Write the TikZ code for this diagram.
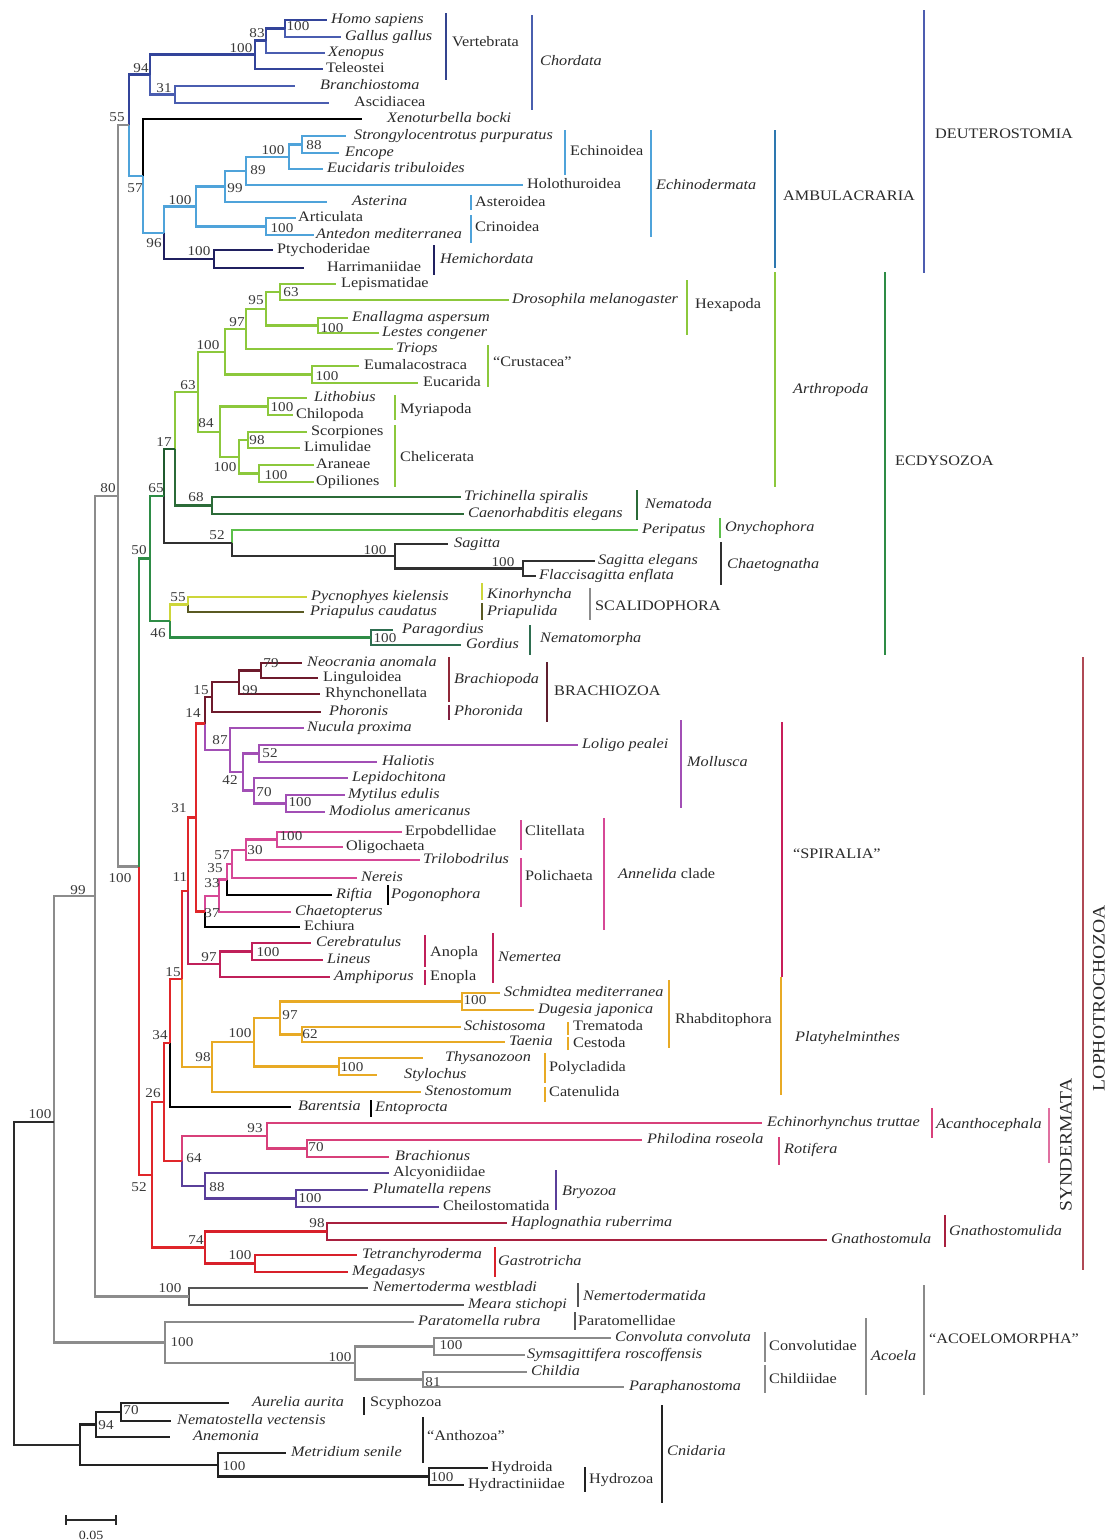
\documentclass[tikz,border=0pt]{standalone}
\usepackage{fontspec}
\setmainfont{Liberation Serif}[FakeStretch=1.12]
\definecolor{txt}{HTML}{2A2A2A}
\definecolor{bsc}{HTML}{3A3A3A}
\definecolor{cChord}{HTML}{33449A}
\definecolor{cChordL}{HTML}{4A5DB0}
\definecolor{cEchi}{HTML}{4FA3DA}
\definecolor{cHemi}{HTML}{202060}
\definecolor{cGray}{HTML}{8C8C8C}
\definecolor{cArth}{HTML}{8CC83C}
\definecolor{cEcd}{HTML}{2E8C46}
\definecolor{cEcdD}{HTML}{1F5A2E}
\definecolor{cNema}{HTML}{2B6B38}
\definecolor{cOny}{HTML}{5CBF4A}
\definecolor{cChae}{HTML}{303030}
\definecolor{cKin}{HTML}{CDD63A}
\definecolor{cPri}{HTML}{5A5A22}
\definecolor{cNmo}{HTML}{2E6E50}
\definecolor{cLoph}{HTML}{E0262A}
\definecolor{cBrz}{HTML}{6E1A2C}
\definecolor{cMoll}{HTML}{A24FB5}
\definecolor{cAnn}{HTML}{D64896}
\definecolor{cNem}{HTML}{C0205A}
\definecolor{cPla}{HTML}{E8AA25}
\definecolor{cSyn}{HTML}{D8407A}
\definecolor{cBry}{HTML}{5A3F9A}
\definecolor{cGna}{HTML}{A8203F}
\definecolor{cGas}{HTML}{D8202A}
\definecolor{cNd}{HTML}{555555}
\definecolor{cAco}{HTML}{8A8A8A}
\definecolor{cCni}{HTML}{222222}
\definecolor{cDark}{HTML}{2A2A2A}
\definecolor{barVert}{HTML}{34448F}
\definecolor{barChord}{HTML}{4A5FAE}
\definecolor{barAmb}{HTML}{2E78B0}
\definecolor{barDeut}{HTML}{4D5DB0}
\definecolor{barScal}{HTML}{8C8C8C}
\definecolor{barBrc}{HTML}{902838}
\definecolor{barPho}{HTML}{802040}
\definecolor{barBrz}{HTML}{602030}
\definecolor{barSpi}{HTML}{C81E5A}
\definecolor{barLoph}{HTML}{B04A55}
\definecolor{barSynd}{HTML}{E070A0}
\newcommand\lff{\fontsize{14.5}{16}\selectfont}
\newcommand\bsff{\fontsize{13.5}{15}\selectfont}
\newcommand\bigff{\fontsize{17.5}{19}\selectfont}
\newcommand\mkleaf[5]{\coordinate (#1) at (#2,#3); \node[lab] (#1-l) at (#4,#3) {#5};}
\newcommand\mkedge[3]{\draw[br,#1] (#2) |- (#3);}
\newcommand\mkbs[4]{\node[bsl] (#1) at (#2,#3) {#4};}
\newcommand\mkgroup[8]{\draw[bar,#8] (#2,#3) -- (#2,#4); \node[lab] (#1) at (#5,#6) {#7};}
\begin{document}
\begin{tikzpicture}[x=1pt,y=-1pt,
  br/.style={line width=2.2pt},
  bar/.style={line width=2.7pt},
  lab/.style={anchor=west,inner sep=0pt,font=\lff,text=txt,text height=10pt,text depth=3pt},
  bsl/.style={inner sep=0pt,font=\bsff,text=bsc}]
\fill[white] (0,0) rectangle (1110,1540);
% ---------- internal nodes ----------
\coordinate (n_hg) at (285,28.5);
\coordinate (n83) at (266,40.5);
\coordinate (n_vert) at (255,54.5);
\coordinate (n31) at (175,94.5);
\coordinate (n94) at (150,74.5);
\coordinate (n_e88) at (302,144.5);
\coordinate (n_echi) at (289,157);
\coordinate (n89) at (246,171);
\coordinate (n99) at (225,186.5);
\coordinate (n_cri) at (266,226.5);
\coordinate (n_echd) at (196,206.5);
\coordinate (n_hemi) at (214,259);
\coordinate (n96) at (164,233);
\coordinate (n57) at (143,176);
\coordinate (n55) at (129,125);
\coordinate (n80) at (118,496);
\coordinate (n_hex) at (280,292);
\coordinate (n_odo) at (318,325.5);
\coordinate (n95) at (266,309);
\coordinate (n97) at (246,329);
\coordinate (n_cru) at (312,374.5);
\coordinate (n_pan) at (225,352);
\coordinate (n_myr) at (268,406.5);
\coordinate (n98a) at (248,440);
\coordinate (n_ao) at (259,473.5);
\coordinate (n_che) at (239,457);
\coordinate (n84) at (220,432);
\coordinate (n63) at (198,392);
\coordinate (n68) at (212,505.5);
\coordinate (n17) at (175,449);
\coordinate (n_ch2) at (523,568.5);
\coordinate (n_cha) at (395,556);
\coordinate (n52e) at (232,543);
\coordinate (n65) at (164,496);
\coordinate (n55e) at (188,604.5);
\coordinate (n_nmo) at (371,637.5);
\coordinate (n46) at (170,621);
\coordinate (n50) at (150,558.5);
\coordinate (n79) at (261,670.5);
\coordinate (n99b) at (239,682);
\coordinate (n15b) at (212,697);
\coordinate (n52m) at (259,753.5);
\coordinate (n_mm) at (286,803.5);
\coordinate (n70m) at (254,790.5);
\coordinate (n42) at (243,772);
\coordinate (n87) at (230,750);
\coordinate (n14) at (205,723.5);
\coordinate (n_cl) at (277,839.5);
\coordinate (n30) at (246,850);
\coordinate (n57a) at (232,864);
\coordinate (n35) at (227,879.5);
\coordinate (n33) at (219,896);
\coordinate (n37) at (205,911.5);
\coordinate (n31b) at (196,817.5);
\coordinate (n_ne) at (252,951.5);
\coordinate (n97n) at (220,964);
\coordinate (n11) at (188,891);
\coordinate (n_sd) at (462,1001.5);
\coordinate (n62) at (302,1034.5);
\coordinate (n97p) at (280,1018);
\coordinate (n_ts) at (339,1066.5);
\coordinate (n_rh) at (254,1042);
\coordinate (n98p) at (212,1067);
\coordinate (n15) at (182,979);
\coordinate (n34) at (170,1043);
\coordinate (n70r) at (307,1148.5);
\coordinate (n93) at (267,1136);
\coordinate (n_br) at (296,1198.5);
\coordinate (n88b) at (205,1186);
\coordinate (n64) at (182,1161);
\coordinate (n26) at (164,1102);
\coordinate (n98g) at (327,1231.5);
\coordinate (n_ga) at (255,1263.5);
\coordinate (n74) at (205,1247.5);
\coordinate (n52l) at (152,1175);
\coordinate (n_pro) at (139,866.5);
\coordinate (n_nd) at (189,1296.5);
\coordinate (n99r) at (95,896);
\coordinate (n_cc) at (434,1346.5);
\coordinate (n81) at (423,1379.5);
\coordinate (n_ac) at (355,1363);
\coordinate (n_pa) at (165,1342.5);
\coordinate (n_out) at (54,1122);
\coordinate (n70c) at (121,1412);
\coordinate (n94c) at (96,1424.5);
\coordinate (n_hy) at (429,1476.5);
\coordinate (n_mh) at (218,1465);
\coordinate (n_cn) at (80,1445);
\coordinate (root) at (14,1283);
% ---------- leaves ----------
\mkleaf{Homo}{327}{20}{331}{\textit{Homo sapiens}}
\mkleaf{Gallus}{341}{37}{345}{\textit{Gallus gallus}}
\mkleaf{Xenopus}{325}{53}{328}{\textit{Xenopus}}
\mkleaf{Teleostei}{323}{69}{326}{Teleostei}
\mkleaf{Branchiostoma}{295}{86}{320}{\textit{Branchiostoma}}
\mkleaf{Ascidiacea}{329}{103}{354}{Ascidiacea}
\mkleaf{Xenoturbella}{362}{119}{387}{\textit{Xenoturbella bocki}}
\mkleaf{Strongylo}{346}{136}{354}{\textit{Strongylocentrotus purpuratus}}
\mkleaf{Encope}{339}{153}{345}{\textit{Encope}}
\mkleaf{Eucidaris}{323}{169}{327}{\textit{Eucidaris tribuloides}}
\mkleaf{Holothuroidea}{523}{185}{527}{Holothuroidea}
\mkleaf{Asterina}{327}{202}{352}{\textit{Asterina}}
\mkleaf{Articulata}{296}{218}{298}{Articulata}
\mkleaf{Antedon}{314}{235}{316}{\textit{Antedon mediterranea}}
\mkleaf{Ptychoderidae}{273}{250}{277}{Ptychoderidae}
\mkleaf{Harrimaniidae}{304}{268}{327}{Harrimaniidae}
\mkleaf{Lepismatidae}{336}{284}{341}{Lepismatidae}
\mkleaf{Drosophila}{509}{300}{512}{\textit{Drosophila melanogaster}}
\mkleaf{Enallagma}{348}{318}{352}{\textit{Enallagma aspersum}}
\mkleaf{Lestes}{379}{333}{382}{\textit{Lestes congener}}
\mkleaf{Triops}{393}{349}{396}{\textit{Triops}}
\mkleaf{Eumalacostraca}{359}{366}{364}{Eumalacostraca}
\mkleaf{Eucarida}{418}{383}{423}{Eucarida}
\mkleaf{Lithobius}{307}{398}{314}{\textit{Lithobius}}
\mkleaf{Chilopoda}{293}{415}{296}{Chilopoda}
\mkleaf{Scorpiones}{307}{432}{311}{Scorpiones}
\mkleaf{Limulidae}{300}{448}{304}{Limulidae}
\mkleaf{Araneae}{314}{465}{316}{Araneae}
\mkleaf{Opiliones}{314}{482}{316}{Opiliones}
\mkleaf{Trichinella}{461}{497}{464}{\textit{Trichinella spiralis}}
\mkleaf{Caenorhabditis}{464}{514}{468}{\textit{Caenorhabditis elegans}}
\mkleaf{Peripatus}{638}{530}{642}{\textit{Peripatus}}
\mkleaf{Sagitta}{448}{544}{454}{\textit{Sagitta}}
\mkleaf{SagittaE}{595}{561}{598}{\textit{Sagitta elegans}}
\mkleaf{Flacc}{536}{576}{539}{\textit{Flaccisagitta enflata}}
\mkleaf{Pycnophyes}{307}{597}{311}{\textit{Pycnophyes kielensis}}
\mkleaf{Priapulus}{304}{612}{310}{\textit{Priapulus caudatus}}
\mkleaf{Paragordius}{393}{630}{402}{\textit{Paragordius}}
\mkleaf{Gordius}{461}{645}{466}{\textit{Gordius}}
\mkleaf{Neocrania}{302}{663}{307}{\textit{Neocrania anomala}}
\mkleaf{Linguloidea}{318}{678}{323}{Linguloidea}
\mkleaf{Rhynchonellata}{320}{694}{325}{Rhynchonellata}
\mkleaf{Phoronis}{321}{712}{329}{\textit{Phoronis}}
\mkleaf{Nucula}{304}{728}{307}{\textit{Nucula proxima}}
\mkleaf{Loligo}{578}{745}{582}{\textit{Loligo pealei}}
\mkleaf{Haliotis}{377}{762}{382}{\textit{Haliotis}}
\mkleaf{Lepidochitona}{348}{778}{352}{\textit{Lepidochitona}}
\mkleaf{Mytilus}{345}{795}{348}{\textit{Mytilus edulis}}
\mkleaf{Modiolus}{325}{812}{329}{\textit{Modiolus americanus}}
\mkleaf{Erpobdellidae}{402}{832}{405}{Erpobdellidae}
\mkleaf{Oligochaeta}{343}{847}{346}{Oligochaeta}
\mkleaf{Trilobodrilus}{420}{860}{423}{\textit{Trilobodrilus}}
\mkleaf{Nereis}{357}{878}{361}{\textit{Nereis}}
\mkleaf{Riftia}{332}{895}{336}{\textit{Riftia}}
\mkleaf{Chaetopterus}{291}{912}{295}{\textit{Chaetopterus}}
\mkleaf{Echiura}{300}{927}{304}{Echiura}
\mkleaf{Cerebratulus}{311}{943}{316}{\textit{Cerebratulus}}
\mkleaf{Lineus}{323}{960}{327}{\textit{Lineus}}
\mkleaf{Amphiporus}{330}{977}{334}{\textit{Amphiporus}}
\mkleaf{Schmidtea}{500}{993}{504}{\textit{Schmidtea mediterranea}}
\mkleaf{Dugesia}{534}{1010}{538}{\textit{Dugesia japonica}}
\mkleaf{Schistosoma}{461}{1027}{464}{\textit{Schistosoma}}
\mkleaf{Taenia}{505}{1042}{509}{\textit{Taenia}}
\mkleaf{Thysanozoon}{423}{1058}{445}{\textit{Thysanozoon}}
\mkleaf{Stylochus}{377}{1075}{404}{\textit{Stylochus}}
\mkleaf{Stenostomum}{421}{1092}{425}{\textit{Stenostomum}}
\mkleaf{Barentsia}{291}{1107}{298}{\textit{Barentsia}}
\mkleaf{Echinorhynchus}{762}{1123}{767}{\textit{Echinorhynchus truttae}}
\mkleaf{Philodina}{642}{1140}{647}{\textit{Philodina roseola}}
\mkleaf{Brachionus}{389}{1157}{395}{\textit{Brachionus}}
\mkleaf{Alcyonidiidae}{389}{1173}{393}{Alcyonidiidae}
\mkleaf{Plumatella}{368}{1190}{373}{\textit{Plumatella repens}}
\mkleaf{Cheilostomatida}{439}{1207}{443}{Cheilostomatida}
\mkleaf{Haplognathia}{507}{1223}{511}{\textit{Haplognathia ruberrima}}
\mkleaf{Gnathostomula}{827}{1240}{831}{\textit{Gnathostomula}}
\mkleaf{Tetranchyroderma}{357}{1255}{362}{\textit{Tetranchyroderma}}
\mkleaf{Megadasys}{348}{1272}{352}{\textit{Megadasys}}
\mkleaf{Nemertoderma}{368}{1288}{373}{\textit{Nemertoderma westbladi}}
\mkleaf{Meara}{464}{1305}{468}{\textit{Meara stichopi}}
\mkleaf{Paratomella}{414}{1322}{418}{\textit{Paratomella rubra}}
\mkleaf{Convoluta}{611}{1338}{615}{\textit{Convoluta convoluta}}
\mkleaf{Symsagittifera}{525}{1355}{527}{\textit{Symsagittifera roscoffensis}}
\mkleaf{Childia}{527}{1372}{531}{\textit{Childia}}
\mkleaf{Paraphanostoma}{624}{1387}{629}{\textit{Paraphanostoma}}
\mkleaf{Aurelia}{229}{1403}{252}{\textit{Aurelia aurita}}
\mkleaf{Nematostella}{171}{1421}{177}{\textit{Nematostella vectensis}}
\mkleaf{Anemonia}{170}{1437}{193}{\textit{Anemonia}}
\mkleaf{Metridium}{286}{1453}{291}{\textit{Metridium senile}}
\mkleaf{Hydroida}{488}{1468}{491}{Hydroida}
\mkleaf{Hydractiniidae}{464}{1485}{468}{Hydractiniidae}
% ---------- edges: Deuterostomia ----------
\mkedge{cChord}{n_hg}{Homo}
\mkedge{cChordL}{n_hg}{Gallus}
\mkedge{cChord}{n83}{n_hg}
\mkedge{cChordL}{n83}{Xenopus}
\mkedge{cChord}{n_vert}{n83}
\mkedge{cChord}{n_vert}{Teleostei}
\mkedge{cChordL}{n31}{Branchiostoma}
\mkedge{cChordL}{n31}{Ascidiacea}
\mkedge{cChord}{n94}{n_vert}
\mkedge{cChordL}{n94}{n31}
\mkedge{cEchi}{n_e88}{Strongylo}
\mkedge{cEchi}{n_e88}{Encope}
\mkedge{cEchi}{n_echi}{n_e88}
\mkedge{cEchi}{n_echi}{Eucidaris}
\mkedge{cEchi}{n89}{n_echi}
\mkedge{cEchi}{n89}{Holothuroidea}
\mkedge{cEchi}{n99}{n89}
\mkedge{cEchi}{n99}{Asterina}
\mkedge{cEchi}{n_cri}{Articulata}
\mkedge{cEchi}{n_cri}{Antedon}
\mkedge{cEchi}{n_echd}{n99}
\mkedge{cEchi}{n_echd}{n_cri}
\mkedge{cHemi}{n_hemi}{Ptychoderidae}
\mkedge{cHemi}{n_hemi}{Harrimaniidae}
\mkedge{cEchi}{n96}{n_echd}
\mkedge{cHemi}{n96}{n_hemi}
\mkedge{black}{n57}{Xenoturbella}
\mkedge{cEchi}{n57}{n96}
\mkedge{cChord}{n55}{n94}
\mkedge{cEchi}{n55}{n57}
\mkedge{cGray}{n80}{n55}
\mkedge{cGray}{n80}{n_pro}
% ---------- edges: Ecdysozoa ----------
\mkedge{cArth}{n_hex}{Lepismatidae}
\mkedge{cArth}{n_hex}{Drosophila}
\mkedge{cArth}{n_odo}{Enallagma}
\mkedge{cArth}{n_odo}{Lestes}
\mkedge{cArth}{n95}{n_hex}
\mkedge{cArth}{n95}{n_odo}
\mkedge{cArth}{n97}{n95}
\mkedge{cArth}{n97}{Triops}
\mkedge{cArth}{n_cru}{Eumalacostraca}
\mkedge{cArth}{n_cru}{Eucarida}
\mkedge{cArth}{n_pan}{n97}
\mkedge{cArth}{n_pan}{n_cru}
\mkedge{cArth}{n_myr}{Lithobius}
\mkedge{cArth}{n_myr}{Chilopoda}
\mkedge{cArth}{n98a}{Scorpiones}
\mkedge{cArth}{n98a}{Limulidae}
\mkedge{cArth}{n_ao}{Araneae}
\mkedge{cArth}{n_ao}{Opiliones}
\mkedge{cArth}{n_che}{n98a}
\mkedge{cArth}{n_che}{n_ao}
\mkedge{cArth}{n84}{n_myr}
\mkedge{cArth}{n84}{n_che}
\mkedge{cArth}{n63}{n_pan}
\mkedge{cArth}{n63}{n84}
\mkedge{cNema}{n68}{Trichinella}
\mkedge{cNema}{n68}{Caenorhabditis}
\mkedge{cArth}{n17}{n63}
\mkedge{cNema}{n17}{n68}
\mkedge{cChae}{n_ch2}{SagittaE}
\mkedge{cChae}{n_ch2}{Flacc}
\mkedge{cChae}{n_cha}{Sagitta}
\mkedge{cChae}{n_cha}{n_ch2}
\mkedge{cOny}{n52e}{Peripatus}
\mkedge{cChae}{n52e}{n_cha}
\mkedge{cEcdD}{n65}{n17}
\mkedge{cChae}{n65}{n52e}
\mkedge{cKin}{n55e}{Pycnophyes}
\mkedge{cPri}{n55e}{Priapulus}
\mkedge{cNmo}{n_nmo}{Paragordius}
\mkedge{cNmo}{n_nmo}{Gordius}
\mkedge{cKin}{n46}{n55e}
\mkedge{cEcd}{n46}{n_nmo}
\mkedge{cEcd}{n50}{n65}
\mkedge{cEcd}{n50}{n46}
\mkedge{cEcd}{n_pro}{n50}
\mkedge{cLoph}{n_pro}{n52l}
% ---------- edges: Lophotrochozoa ----------
\mkedge{cBrz}{n79}{Neocrania}
\mkedge{cBrz}{n79}{Linguloidea}
\mkedge{cBrz}{n99b}{n79}
\mkedge{cBrz}{n99b}{Rhynchonellata}
\mkedge{cBrz}{n15b}{n99b}
\mkedge{cBrz}{n15b}{Phoronis}
\mkedge{cMoll}{n52m}{Loligo}
\mkedge{cMoll}{n52m}{Haliotis}
\mkedge{cMoll}{n_mm}{Mytilus}
\mkedge{cMoll}{n_mm}{Modiolus}
\mkedge{cMoll}{n70m}{Lepidochitona}
\mkedge{cMoll}{n70m}{n_mm}
\mkedge{cMoll}{n42}{n52m}
\mkedge{cMoll}{n42}{n70m}
\mkedge{cMoll}{n87}{Nucula}
\mkedge{cMoll}{n87}{n42}
\mkedge{cBrz}{n14}{n15b}
\mkedge{cMoll}{n14}{n87}
\mkedge{cAnn}{n_cl}{Erpobdellidae}
\mkedge{cAnn}{n_cl}{Oligochaeta}
\mkedge{cAnn}{n30}{n_cl}
\mkedge{cAnn}{n30}{Trilobodrilus}
\mkedge{cAnn}{n57a}{n30}
\mkedge{cAnn}{n57a}{Nereis}
\mkedge{cAnn}{n35}{n57a}
\mkedge{black}{n35}{Riftia}
\mkedge{cAnn}{n33}{n35}
\mkedge{cAnn}{n33}{Chaetopterus}
\mkedge{cAnn}{n37}{n33}
\mkedge{black}{n37}{Echiura}
\mkedge{cLoph}{n31b}{n14}
\mkedge{cLoph}{n31b}{n37}
\mkedge{cNem}{n_ne}{Cerebratulus}
\mkedge{cNem}{n_ne}{Lineus}
\mkedge{cNem}{n97n}{n_ne}
\mkedge{cNem}{n97n}{Amphiporus}
\mkedge{cLoph}{n11}{n31b}
\mkedge{cNem}{n11}{n97n}
\mkedge{cPla}{n_sd}{Schmidtea}
\mkedge{cPla}{n_sd}{Dugesia}
\mkedge{cPla}{n62}{Schistosoma}
\mkedge{cPla}{n62}{Taenia}
\mkedge{cPla}{n97p}{n_sd}
\mkedge{cPla}{n97p}{n62}
\mkedge{cPla}{n_ts}{Thysanozoon}
\mkedge{cPla}{n_ts}{Stylochus}
\mkedge{cPla}{n_rh}{n97p}
\mkedge{cPla}{n_rh}{n_ts}
\mkedge{cPla}{n98p}{n_rh}
\mkedge{cPla}{n98p}{Stenostomum}
\mkedge{cLoph}{n15}{n11}
\mkedge{cPla}{n15}{n98p}
\mkedge{cLoph}{n34}{n15}
\mkedge{black}{n34}{Barentsia}
\mkedge{cSyn}{n70r}{Philodina}
\mkedge{cSyn}{n70r}{Brachionus}
\mkedge{cSyn}{n93}{Echinorhynchus}
\mkedge{cSyn}{n93}{n70r}
\mkedge{cBry}{n_br}{Plumatella}
\mkedge{cBry}{n_br}{Cheilostomatida}
\mkedge{cBry}{n88b}{Alcyonidiidae}
\mkedge{cBry}{n88b}{n_br}
\mkedge{cSyn}{n64}{n93}
\mkedge{cBry}{n64}{n88b}
\mkedge{cLoph}{n26}{n34}
\mkedge{cLoph}{n26}{n64}
\mkedge{cGna}{n98g}{Haplognathia}
\mkedge{cGna}{n98g}{Gnathostomula}
\mkedge{cGas}{n_ga}{Tetranchyroderma}
\mkedge{cGas}{n_ga}{Megadasys}
\mkedge{cGas}{n74}{n98g}
\mkedge{cGas}{n74}{n_ga}
\mkedge{cLoph}{n52l}{n26}
\mkedge{cLoph}{n52l}{n74}
% ---------- edges: outgroups ----------
\mkedge{cNd}{n_nd}{Nemertoderma}
\mkedge{cNd}{n_nd}{Meara}
\mkedge{cGray}{n99r}{n80}
\mkedge{cGray}{n99r}{n_nd}
\mkedge{cAco}{n_cc}{Convoluta}
\mkedge{cAco}{n_cc}{Symsagittifera}
\mkedge{cAco}{n81}{Childia}
\mkedge{cAco}{n81}{Paraphanostoma}
\mkedge{cAco}{n_ac}{n_cc}
\mkedge{cAco}{n_ac}{n81}
\mkedge{cAco}{n_pa}{Paratomella}
\mkedge{cAco}{n_pa}{n_ac}
\mkedge{cGray}{n_out}{n99r}
\mkedge{cGray}{n_out}{n_pa}
\mkedge{cCni}{n70c}{Aurelia}
\mkedge{cCni}{n70c}{Nematostella}
\mkedge{cCni}{n94c}{n70c}
\mkedge{cCni}{n94c}{Anemonia}
\mkedge{cCni}{n_hy}{Hydroida}
\mkedge{cCni}{n_hy}{Hydractiniidae}
\mkedge{cCni}{n_mh}{Metridium}
\mkedge{cCni}{n_mh}{n_hy}
\mkedge{cCni}{n_cn}{n94c}
\mkedge{cCni}{n_cn}{n_mh}
\mkedge{cDark}{root}{n_out}
\mkedge{cDark}{root}{n_cn}
% ---------- bootstrap values ----------
\mkbs{b1}{298}{26}{100}
\mkbs{b2}{257}{33}{83}
\mkbs{b3}{241}{48}{100}
\mkbs{b4}{164}{88}{31}
\mkbs{b5}{141}{68}{94}
\mkbs{b6}{314}{145}{88}
\mkbs{b7}{273}{150}{100}
\mkbs{b8}{258}{170}{89}
\mkbs{b9}{235}{188}{99}
\mkbs{b10}{282}{228}{100}
\mkbs{b11}{180}{200}{100}
\mkbs{b12}{199}{251}{100}
\mkbs{b13}{154}{243}{96}
\mkbs{b14}{135}{188}{57}
\mkbs{b15}{117}{117}{55}
\mkbs{b16}{108}{488}{80}
\mkbs{b17}{291}{292}{63}
\mkbs{b18}{332}{328}{100}
\mkbs{b19}{256}{300}{95}
\mkbs{b20}{237}{322}{97}
\mkbs{b21}{327}{376}{100}
\mkbs{b22}{208}{345}{100}
\mkbs{b23}{282}{407}{100}
\mkbs{b24}{257}{440}{98}
\mkbs{b25}{276}{475}{100}
\mkbs{b26}{225}{467}{100}
\mkbs{b27}{206}{423}{84}
\mkbs{b28}{188}{385}{63}
\mkbs{b29}{196}{497}{68}
\mkbs{b30}{164}{442}{17}
\mkbs{b31}{503}{562}{100}
\mkbs{b32}{375}{550}{100}
\mkbs{b33}{217}{535}{52}
\mkbs{b34}{156}{488}{65}
\mkbs{b35}{178}{597}{55}
\mkbs{b36}{385}{638}{100}
\mkbs{b37}{158}{633}{46}
\mkbs{b38}{139}{550}{50}
\mkbs{b39}{271}{663}{79}
\mkbs{b40}{250}{690}{99}
\mkbs{b41}{201}{690}{15}
\mkbs{b42}{270}{753}{52}
\mkbs{b43}{300}{802}{100}
\mkbs{b44}{264}{792}{70}
\mkbs{b45}{230}{780}{42}
\mkbs{b46}{220}{740}{87}
\mkbs{b47}{193}{713}{14}
\mkbs{b48}{291}{836}{100}
\mkbs{b49}{255}{850}{30}
\mkbs{b50}{222}{855}{57}
\mkbs{b51}{215}{868}{35}
\mkbs{b52}{212}{883}{33}
\mkbs{b53}{212}{913}{37}
\mkbs{b54}{179}{808}{31}
\mkbs{b55}{268}{952}{100}
\mkbs{b56}{209}{957}{97}
\mkbs{b57}{180}{877}{11}
\mkbs{b58}{475}{1000}{100}
\mkbs{b59}{310}{1034}{62}
\mkbs{b60}{290}{1015}{97}
\mkbs{b61}{352}{1067}{100}
\mkbs{b62}{240}{1033}{100}
\mkbs{b63}{203}{1057}{98}
\mkbs{b64}{173}{972}{15}
\mkbs{b65}{160}{1035}{34}
\mkbs{b66}{316}{1147}{70}
\mkbs{b67}{255}{1128}{93}
\mkbs{b68}{310}{1198}{100}
\mkbs{b69}{217}{1187}{88}
\mkbs{b70}{194}{1158}{64}
\mkbs{b71}{153}{1093}{26}
\mkbs{b72}{317}{1223}{98}
\mkbs{b73}{240}{1255}{100}
\mkbs{b74}{196}{1240}{74}
\mkbs{b75}{139}{1187}{52}
\mkbs{b76}{120}{878}{100}
\mkbs{b77}{170}{1288}{100}
\mkbs{b78}{78}{890}{99}
\mkbs{b79}{451}{1345}{100}
\mkbs{b80}{433}{1382}{81}
\mkbs{b81}{340}{1357}{100}
\mkbs{b82}{182}{1342}{100}
\mkbs{b83}{40}{1114}{100}
\mkbs{b84}{131}{1410}{70}
\mkbs{b85}{106}{1425}{94}
\mkbs{b86}{442}{1477}{100}
\mkbs{b87}{234}{1466}{100}
% ---------- group bars ----------
\mkgroup{g1}{446}{13}{80}{452}{43}{Vertebrata}{barVert}
\mkgroup{g2}{532}{15}{110}{540}{62}{\textit{Chordata}}{barChord}
\mkgroup{g3}{565}{130}{175}{570}{152}{Echinoidea}{cEchi}
\mkgroup{g4}{651}{130}{237}{656}{186}{\textit{Echinodermata}}{cEchi}
\mkgroup{g5}{775}{130}{268}{783}{197}{AMBULACRARIA}{barAmb}
\mkgroup{g6}{924}{10}{273}{935}{135}{DEUTEROSTOMIA}{barDeut}
\mkgroup{g7}{471}{195}{210}{475}{203}{Asteroidea}{cEchi}
\mkgroup{g8}{471}{215}{243}{475}{228}{Crinoidea}{cEchi}
\mkgroup{g9}{434}{245}{275}{440}{260}{\textit{Hemichordata}}{cHemi}
\mkgroup{g10}{687}{280}{335}{695}{305}{Hexapoda}{cArth}
\mkgroup{g11}{488}{345}{387}{493}{363}{“Crustacea”}{cArth}
\mkgroup{g12}{395}{395}{420}{400}{410}{Myriapoda}{cArth}
\mkgroup{g13}{395}{425}{487}{400}{458}{Chelicerata}{cArth}
\mkgroup{g14}{775}{272}{487}{793}{390}{\textit{Arthropoda}}{cArth}
\mkgroup{g15}{885}{272}{655}{895}{462}{ECDYSOZOA}{cEcd}
\mkgroup{g16}{637}{490}{520}{645}{505}{\textit{Nematoda}}{cNema}
\mkgroup{g17}{720}{518}{538}{725}{528}{\textit{Onychophora}}{cOny}
\mkgroup{g18}{721}{542}{585}{727}{565}{\textit{Chaetognatha}}{cChae}
\mkgroup{g19}{482}{583}{600}{487}{595}{\textit{Kinorhyncha}}{cKin}
\mkgroup{g20}{482}{603}{620}{487}{612}{\textit{Priapulida}}{cPri}
\mkgroup{g21}{590}{588}{620}{595}{607}{SCALIDOPHORA}{barScal}
\mkgroup{g22}{530}{625}{655}{540}{639}{\textit{Nematomorpha}}{cNmo}
\mkgroup{g23}{449}{657}{702}{454}{680}{\textit{Brachiopoda}}{barBrc}
\mkgroup{g24}{449}{705}{720}{454}{712}{\textit{Phoronida}}{barPho}
\mkgroup{g25}{547}{662}{722}{554}{692}{BRACHIOZOA}{barBrz}
\mkgroup{g26}{681}{720}{808}{687}{763}{\textit{Mollusca}}{cMoll}
\mkgroup{g27}{782}{722}{977}{793}{855}{“SPIRALIA”}{barSpi}
\mkgroup{g28}{521}{820}{850}{525}{832}{Clitellata}{cAnn}
\mkgroup{g29}{521}{858}{907}{525}{877}{Polichaeta}{cAnn}
\mkgroup{g30}{388}{885}{905}{391}{895}{\textit{Pogonophora}}{black}
\mkgroup{g31}{604}{818}{930}{618}{875}{\textit{Annelida} clade}{cAnn}
\mkgroup{g32}{425}{935}{967}{430}{953}{Anopla}{cNem}
\mkgroup{g33}{425}{970}{985}{430}{977}{Enopla}{cNem}
\mkgroup{g34}{493}{933}{983}{498}{958}{\textit{Nemertea}}{cNem}
\mkgroup{g35}{669}{980}{1048}{675}{1020}{Rhabditophora}{cPla}
\mkgroup{g36}{568}{1022}{1035}{573}{1027}{Trematoda}{cPla}
\mkgroup{g37}{568}{1037}{1050}{573}{1044}{Cestoda}{cPla}
\mkgroup{g38}{545}{1053}{1083}{549}{1068}{Polycladida}{cPla}
\mkgroup{g39}{545}{1087}{1102}{549}{1093}{Catenulida}{cPla}
\mkgroup{g40}{781}{977}{1095}{795}{1038}{\textit{Platyhelminthes}}{cPla}
\mkgroup{g41}{371}{1100}{1117}{375}{1108}{\textit{Entoprocta}}{black}
\mkgroup{g42}{932}{1108}{1138}{936}{1125}{\textit{Acanthocephala}}{cSyn}
\mkgroup{g43}{779}{1137}{1165}{784}{1150}{\textit{Rotifera}}{cSyn}
\mkgroup{g44}{556}{1170}{1210}{562}{1192}{\textit{Bryozoa}}{cBry}
\mkgroup{g45}{945}{1215}{1247}{949}{1232}{\textit{Gnathostomulida}}{cGna}
\mkgroup{g46}{495}{1247}{1277}{498}{1262}{\textit{Gastrotricha}}{cGas}
\mkgroup{g47}{578}{1283}{1307}{583}{1297}{\textit{Nemertodermatida}}{cNd}
\mkgroup{g48}{575}{1312}{1330}{578}{1322}{Paratomellidae}{cNd}
\mkgroup{g49}{765}{1332}{1362}{769}{1347}{Convolutidae}{cAco}
\mkgroup{g50}{765}{1365}{1393}{769}{1380}{Childiidae}{cAco}
\mkgroup{g51}{866}{1318}{1395}{871}{1357}{\textit{Acoela}}{cAco}
\mkgroup{g52}{924}{1285}{1395}{929}{1340}{“ACOELOMORPHA”}{cAco}
\mkgroup{g53}{364}{1397}{1415}{370}{1403}{Scyphozoa}{cCni}
\mkgroup{g54}{423}{1417}{1463}{427}{1437}{“Anthozoa”}{cCni}
\mkgroup{g55}{585}{1467}{1492}{589}{1480}{Hydrozoa}{cCni}
\mkgroup{g56}{662}{1405}{1503}{667}{1452}{\textit{Cnidaria}}{cCni}
% rotated group labels
\draw[bar,barSynd] (1049,1108) -- (1049,1163);
\node[inner sep=0pt,font=\bigff,text=txt,rotate=90] (g57) at (1066,1145) {SYNDERMATA};
\draw[bar,barLoph] (1083,657) -- (1083,1270);
\node[inner sep=0pt,font=\bigff,text=txt,rotate=90] (g58) at (1099,998) {LOPHOTROCHOZOA};
% ---------- scale bar ----------
\coordinate (sb1) at (66,1520);
\coordinate (sb2) at (116,1520);
\draw[line width=1.8pt,cDark] (sb1) -- (sb2);
\draw[line width=1.4pt,cDark] ([yshift=5pt]sb1) -- ([yshift=-5pt]sb1);
\draw[line width=1.4pt,cDark] ([yshift=5pt]sb2) -- ([yshift=-5pt]sb2);
\node[inner sep=0pt,font=\fontsize{12.5}{13}\selectfont,text=txt] (sbl) at (91,1535) {0.05};
\end{tikzpicture}
\end{document}
